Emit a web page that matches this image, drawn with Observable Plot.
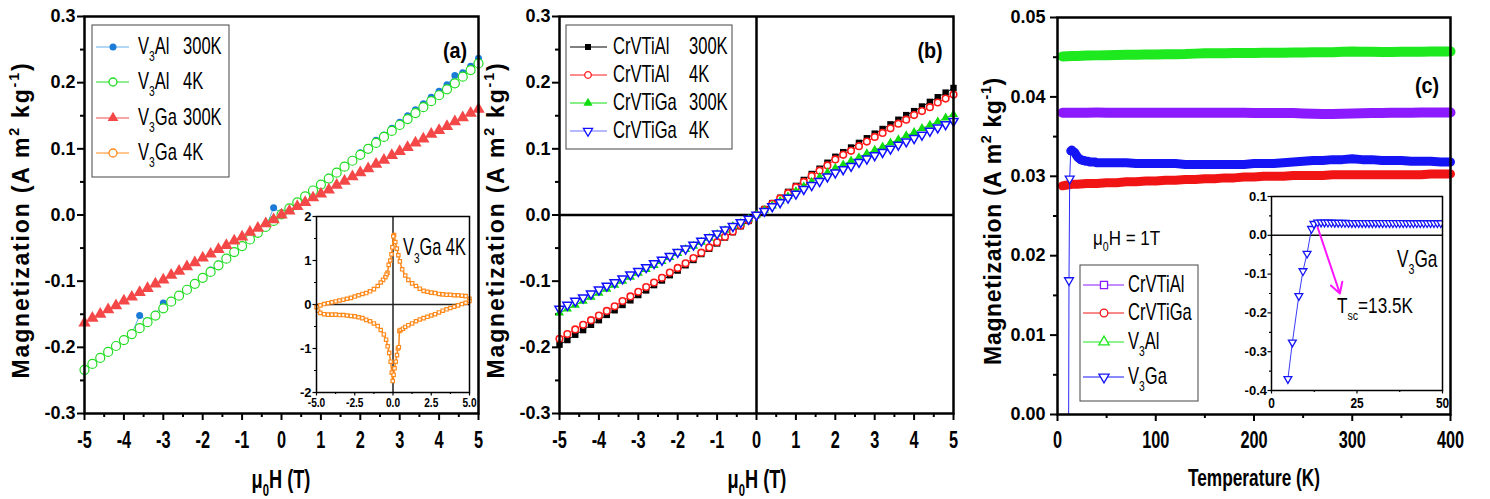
<!DOCTYPE html>
<html>
<head>
<meta charset="utf-8">
<script src="https://cdn.jsdelivr.net/npm/d3@7"></script>
<script src="https://cdn.jsdelivr.net/npm/@observablehq/plot@0.6"></script>
<style>
  body { margin: 0; background: #fff; }
  #fig { position: relative; width: 1490px; height: 499px; overflow: hidden; background: #fff;
         font-family: 'Liberation Sans', Arial, Helvetica, sans-serif; }
  #fig > svg { position: absolute; }
  .pm g[aria-label="x-axis tick label"] text { font: bold 24px 'Liberation Sans', Arial, sans-serif; }
  .pm g[aria-label="y-axis tick label"] text { font: bold 18px 'Liberation Sans', Arial, sans-serif; }
  .pa g[aria-label="x-axis tick label"] text { font: bold 13px 'Liberation Sans', Arial, sans-serif; }
  .pa g[aria-label="y-axis tick label"] text { font: bold 13px 'Liberation Sans', Arial, sans-serif; }
  .pc g[aria-label="x-axis tick label"] text { font: bold 14px 'Liberation Sans', Arial, sans-serif; }
  .pc g[aria-label="y-axis tick label"] text { font: bold 13px 'Liberation Sans', Arial, sans-serif; }
</style>
</head>
<body>
<div id="fig"></div>
<script>
// ---------------- field sweeps for panels (a) and (b), tesla ----------------
const fieldAB = [-5.0,-4.8,-4.6,-4.4,-4.2,-4.0,-3.8,-3.6,-3.4,-3.2,-3.0,-2.8,-2.6,-2.4,-2.2,-2.0,-1.8,-1.6,-1.4,-1.2,
  -1.0,-0.8,-0.6,-0.4,-0.2,0.0,0.2,0.4,0.6,0.8,1.0,1.2,1.4,1.6,1.8,2.0,2.2,2.4,2.6,2.8,
  3.0,3.2,3.4,3.6,3.8,4.0,4.2,4.4,4.6,4.8,5.0];

// (a) V3Al / V3Ga magnetization, A m^2 kg^-1
const v3al300K = [-0.236,-0.226,-0.217,-0.207,-0.197,-0.190,-0.179,-0.152,-0.160,-0.150,
  -0.133,-0.131,-0.121,-0.112,-0.103,-0.094,-0.083,-0.074,-0.066,-0.057,
  -0.048,-0.037,-0.028,-0.019,0.011,0.003,0.010,0.019,0.028,0.038,
  0.047,0.057,0.065,0.074,0.083,0.094,0.102,0.113,0.121,0.131,
  0.140,0.150,0.159,0.168,0.178,0.187,0.197,0.211,0.215,0.225,0.237];
const v3al4K = [-0.234,-0.225,-0.216,-0.207,-0.198,-0.189,-0.180,-0.171,-0.162,-0.152,
  -0.141,-0.131,-0.122,-0.113,-0.104,-0.095,-0.086,-0.076,-0.066,-0.056,
  -0.047,-0.037,-0.027,-0.018,-0.009,0.001,0.010,0.019,0.028,0.037,
  0.046,0.055,0.064,0.073,0.082,0.091,0.100,0.109,0.118,0.127,
  0.136,0.145,0.154,0.163,0.172,0.181,0.190,0.199,0.209,0.219,0.229];
const v3ga300K = [-0.163,-0.156,-0.150,-0.143,-0.137,-0.130,-0.124,-0.117,-0.111,-0.104,
  -0.098,-0.091,-0.085,-0.078,-0.072,-0.065,-0.059,-0.052,-0.046,-0.039,
  -0.033,-0.026,-0.020,-0.013,-0.007,0.000,0.006,0.013,0.019,0.026,
  0.032,0.038,0.045,0.051,0.058,0.064,0.070,0.077,0.083,0.090,
  0.096,0.102,0.109,0.115,0.122,0.128,0.134,0.141,0.147,0.154,0.160];

// (b) CrVTiAl / CrVTiGa
const crvtial300K = [-0.196,-0.189,-0.181,-0.174,-0.166,-0.159,-0.151,-0.144,-0.136,-0.129,
  -0.121,-0.114,-0.106,-0.099,-0.091,-0.084,-0.076,-0.068,-0.059,-0.051,
  -0.043,-0.034,-0.026,-0.017,-0.009,0.000,
  0.009,0.018,0.026,0.035,0.044,0.053,0.062,0.070,0.079,0.088,
  0.095,0.102,0.109,0.116,0.123,0.130,0.137,0.144,0.151,0.157,0.164,0.171,0.178,0.185,0.192];
const crvtial4K = [-0.187,-0.180,-0.173,-0.166,-0.159,-0.152,-0.145,-0.138,-0.130,-0.123,
  -0.116,-0.109,-0.102,-0.095,-0.087,-0.080,-0.073,-0.065,-0.057,-0.049,
  -0.041,-0.033,-0.025,-0.016,-0.008,0.000,
  0.008,0.017,0.025,0.033,0.042,0.050,0.059,0.067,0.075,0.084,
  0.091,0.097,0.104,0.111,0.118,0.124,0.131,0.138,0.144,0.151,0.157,0.163,0.170,0.176,0.182];
const crvtiga300K = [-0.148,-0.142,-0.136,-0.130,-0.124,-0.118,-0.112,-0.106,-0.100,-0.094,
  -0.088,-0.082,-0.076,-0.070,-0.064,-0.058,-0.052,-0.047,-0.041,-0.035,
  -0.029,-0.023,-0.017,-0.012,-0.006,0.000,
  0.007,0.014,0.021,0.028,0.036,0.043,0.050,0.057,0.064,0.071,
  0.076,0.082,0.087,0.093,0.098,0.103,0.109,0.114,0.120,0.125,0.131,0.136,0.141,0.147,0.152];
const crvtiga4K = [-0.142,-0.136,-0.130,-0.125,-0.119,-0.113,-0.107,-0.102,-0.096,-0.090,
  -0.085,-0.079,-0.073,-0.068,-0.062,-0.056,-0.051,-0.045,-0.039,-0.034,
  -0.028,-0.022,-0.017,-0.011,-0.006,0.000,
  0.006,0.013,0.019,0.026,0.032,0.039,0.045,0.051,0.058,0.064,
  0.069,0.074,0.080,0.085,0.090,0.095,0.100,0.106,0.111,0.116,0.121,0.127,0.132,0.137,0.142];

// inset of (a): V3Ga hysteresis loop at 4 K (descending then ascending branch)
const loopDownH = [5.0,4.75,4.5,4.25,4.0,3.75,3.5,3.25,3.0,2.75,2.5,2.25,2.0,1.75,1.5,1.25,1.0,0.8,0.6,0.45,
  0.35,0.25,0.15,0.07,0.02,-0.04,-0.1,-0.18,-0.28,-0.36,-0.42,-0.5,-0.65,-0.8,-1.0,-1.25,-1.5,-1.75,-2.0,-2.25,
  -2.5,-2.75,-3.0,-3.25,-3.5,-3.75,-4.0,-4.25,-4.5,-4.75,-5.0];
const loopDownM = [0.13,0.19,0.20,0.21,0.21,0.22,0.22,0.23,0.24,0.26,0.27,0.29,0.31,0.36,0.42,0.48,0.56,0.66,0.80,0.98,
  1.12,1.27,1.42,1.58,1.55,1.30,1.14,1.00,0.90,0.72,0.68,0.62,0.56,0.50,0.42,0.35,0.30,0.26,0.24,0.21,
  0.18,0.15,0.13,0.11,0.09,0.07,0.05,0.03,0.01,-0.02,-0.06];
const loopUpH = [-4.9,-4.75,-4.5,-4.25,-4.0,-3.75,-3.5,-3.25,-3.0,-2.75,-2.5,-2.25,-2.0,-1.75,-1.5,-1.25,-1.0,-0.8,-0.6,-0.45,
  -0.35,-0.25,-0.15,-0.08,-0.02,0.04,0.1,0.18,0.26,0.32,0.38,0.42,0.5,0.65,0.8,1.0,1.25,1.5,1.75,2.0,
  2.25,2.5,2.75,3.0,3.25,3.5,3.75,4.0,4.25,4.5,4.75,5.0];
const loopUpM = [-0.14,-0.19,-0.22,-0.23,-0.23,-0.23,-0.24,-0.24,-0.25,-0.26,-0.27,-0.29,-0.31,-0.35,-0.38,-0.43,-0.49,-0.58,-0.68,-0.80,
  -0.95,-1.10,-1.30,-1.55,-1.74,-1.60,-1.45,-1.30,-1.15,-1.00,-0.97,-0.60,-0.58,-0.55,-0.51,-0.47,-0.43,-0.38,-0.34,-0.31,
  -0.28,-0.25,-0.22,-0.18,-0.14,-0.11,-0.08,-0.05,-0.02,0.01,0.04,0.08];

// ---------------- (c) M(T) at 1 T, kelvin ----------------
const tempC = [5,10,15,20,30,40,50,60,70,80,90,100,110,120,130,140,150,160,170,180,190,200,210,220,230,240,
  250,260,270,280,290,300,310,320,330,340,350,360,370,380,390,400];
const mCrVTiAl = [0.03800,0.03801,0.03800,0.03800,0.03801,0.03802,0.03801,0.03800,0.03800,0.03801,0.03800,0.03799,0.03800,
  0.03800,0.03801,0.03800,0.03799,0.03800,0.03800,0.03799,0.03799,0.03798,0.03798,0.03798,0.03797,0.03796,
  0.03792,0.03788,0.03786,0.03786,0.03788,0.03790,0.03793,0.03796,
  0.03798,0.03800,0.03801,0.03801,0.03802,0.03802,0.03802,0.03803];
const mCrVTiGa = [0.0288,0.0289,0.0290,0.0290,0.0291,0.0291,0.0292,0.0292,0.0293,0.0293,0.0294,0.0294,0.0295,
  0.0295,0.0296,0.0296,0.0297,0.0297,0.0298,0.0298,0.0299,0.0299,0.0300,0.0300,0.0300,0.0301,
  0.0301,0.0301,0.0301,0.0302,0.0302,0.0302,0.0302,0.0302,
  0.0302,0.0302,0.0302,0.0302,0.0302,0.0303,0.0303,0.0303];
const mV3Al = [0.04510,0.04512,0.04514,0.04516,0.04520,0.04523,0.04526,0.04528,0.04530,0.04532,0.04534,0.04535,0.04537,
  0.04538,0.04540,0.04545,0.04549,0.04550,0.04551,0.04552,0.04553,0.04554,0.04555,0.04556,0.04557,0.04558,
  0.04560,0.04561,0.04562,0.04563,0.04570,0.04572,0.04570,0.04568,
  0.04567,0.04567,0.04568,0.04569,0.04570,0.04571,0.04572,0.04573];
const tempV3Ga = [4.8,6.1,8.0,9.2,10.4,11.7,12.4,
  13.5,14.5,15.5,16.5,17.5,18.5,19.5,20.5,21.5,22.5,23.5,24.5,25.5,26.5,27.5,28.5,29.5,30.5,31.5,32.5,
  33.5,34.5,35.5,36.5,37.5,38.5,39.5,40.5,41.5,42.5,43.5,44.5,45.5,46.5,47.5,48.5,49.5,
  60,70,80,90,100,110,120,130,140,150,160,170,180,190,200,210,220,230,240,250,
  260,270,280,290,300,310,320,330,340,350,360,370,380,390,400];
const mV3Ga = [-0.370,-0.276,-0.156,-0.092,-0.047,0.0169,0.0297,
  0.0332,0.0333,0.0332,0.0331,0.0330,0.0328,0.0326,0.0324,0.0323,0.0322,
  0.0321,0.0321,0.0320,0.0320,0.0320,0.0319,0.0319,0.0319,0.0319,0.0318,
  0.0318,0.0318,0.0318,0.0318,0.0318,0.0318,0.0317,0.0317,0.0317,0.0317,
  0.0317,0.0317,0.0317,0.0317,0.0317,0.0317,0.0317,
  0.0317,0.0317,0.0316,0.0316,0.0316,0.0316,0.0316,0.0315,0.0315,0.0315,
  0.0315,0.0315,0.0315,0.0315,0.0316,0.0316,0.0316,0.0317,0.0318,0.0319,
  0.0320,0.0320,0.0321,0.0321,0.0322,0.0321,0.0321,0.0320,0.0320,0.0320,
  0.0319,0.0319,0.0319,0.0318,0.0318];
const tSC = 13.5;                 // superconducting transition of V3Ga, K
const tscArrowEnd = [20, -0.15];  // where the Tsc pointer ends (inset coordinates)

// ---------------- ticks ----------------
const ticksH = [-5,-4,-3,-2,-1,0,1,2,3,4,5];
const minorH = [-4.5,-3.5,-2.5,-1.5,-0.5,0.5,1.5,2.5,3.5,4.5];
const ticksM = [-0.3,-0.2,-0.1,0,0.1,0.2,0.3];
const minorM = [-0.25,-0.15,-0.05,0.05,0.15,0.25];
const ticksT = [0,100,200,300,400];
const minorT = [50,150,250,350];
const ticksMT = [0,0.01,0.02,0.03,0.04,0.05];
const minorMT = [0.005,0.015,0.025,0.035,0.045];
const ticksLoopH = [-5,-2.5,0,2.5,5];
const minorLoopH = [-3.75,-1.25,1.25,3.75];
const ticksLoopM = [-2,-1,0,1,2];
const minorLoopM = [-1.5,-0.5,0.5,1.5];
const ticksTi = [0,25,50];
const minorTi = [12.5,37.5];
const ticksMi = [-0.4,-0.3,-0.2,-0.1,0,0.1];
const minorMi = [-0.35,-0.25,-0.15,-0.05,0.05];

// ---------------- helpers ----------------
const NS = "http://www.w3.org/2000/svg";
const FONT = "'Liberation Sans', Arial, Helvetica, sans-serif";
const fig = document.getElementById("fig");
const rows = (xs, ys) => xs.map((x, i) => ({x, y: ys[i]}));

// downward-pointing triangle, same area convention as d3.symbolTriangle
const triangleDown = {
  draw(context, size) {
    const y = -Math.sqrt(size / (Math.sqrt(3) * 3));
    context.moveTo(0, -y * 2);
    context.lineTo(-Math.sqrt(3) * y, y);
    context.lineTo(Math.sqrt(3) * y, y);
    context.closePath();
  }
};

function axes({xMajor, xMinor, yMajor, yMinor, xFmt, yFmt, major = 7, minor = 4, sw = 2, xPad = 10, yPad = 2}) {
  return [
    Plot.axisX({ticks: xMajor, tickSize: major, tickPadding: xPad, tickFormat: xFmt, strokeWidth: sw, label: null}),
    Plot.axisX({ticks: xMinor, tickSize: minor, tickFormat: () => "", strokeWidth: sw, label: null}),
    Plot.axisY({ticks: yMajor, tickSize: major, tickPadding: yPad, tickFormat: yFmt, strokeWidth: sw, label: null}),
    Plot.axisY({ticks: yMinor, tickSize: minor, tickFormat: () => "", strokeWidth: sw, label: null})
  ];
}

// narrow the glyphs of a group of texts horizontally around their anchor x
function condense(svg, selector, k) {
  svg.querySelectorAll(selector).forEach((t) => {
    let x = parseFloat(t.getAttribute("x"));
    if (!isFinite(x)) x = 0;
    const tr = t.getAttribute("transform") || "";
    t.setAttribute("transform", `${tr} translate(${x},0) scale(${k},1) translate(${-x},0)`.trim());
  });
}

function place(svg, left, top, cls) {
  svg.style.position = "absolute";
  svg.style.left = left + "px";
  svg.style.top = top + "px";
  svg.classList.add(cls);
  fig.appendChild(svg);
  return svg;
}

const baseStyle = {background: "transparent", overflow: "visible", fontFamily: FONT};

// ---------------- panel (a) ----------------
const panelA = Plot.plot({
  width: 490, height: 499, marginLeft: 84, marginRight: 12, marginTop: 16, marginBottom: 86,
  x: {domain: [-5, 5]}, y: {domain: [-0.3, 0.3]},
  style: baseStyle,
  marks: [
    ...axes({xMajor: ticksH, xMinor: minorH, yMajor: ticksM, yMinor: minorM,
             xFmt: (d) => String(d), yFmt: (d) => d.toFixed(1)}),
    Plot.line(rows(fieldAB, v3al300K), {x: "x", y: "y", stroke: "#62b0ee", strokeWidth: 1}),
    Plot.dot(rows(fieldAB, v3al300K), {x: "x", y: "y", r: 3.5, fill: "#1b7bd6"}),
    Plot.line(rows(fieldAB, v3al4K), {x: "x", y: "y", stroke: "#22dd22", strokeWidth: 1}),
    Plot.dot(rows(fieldAB, v3al4K), {x: "x", y: "y", r: 4.5, fill: "white", stroke: "#22dd22", strokeWidth: 1.2}),
    Plot.line(rows(fieldAB, v3ga300K), {x: "x", y: "y", stroke: "#f44848", strokeWidth: 1}),
    Plot.dot(rows(fieldAB, v3ga300K), {x: "x", y: "y", symbol: "triangle", r: 4.6, fill: "#f44848"}),
    Plot.frame({stroke: "black", strokeWidth: 2.5})
  ]
});
condense(panelA, 'g[aria-label="x-axis tick label"] text', 0.68);
place(panelA, 0, 0, "pm");

// ---------------- panel (b) ----------------
const panelB = Plot.plot({
  width: 490, height: 499, marginLeft: 69, marginRight: 27, marginTop: 16, marginBottom: 86,
  x: {domain: [-5, 5]}, y: {domain: [-0.3, 0.3]},
  style: baseStyle,
  marks: [
    ...axes({xMajor: ticksH, xMinor: minorH, yMajor: ticksM, yMinor: minorM,
             xFmt: (d) => String(d), yFmt: (d) => d.toFixed(1)}),
    Plot.ruleX([0], {stroke: "black", strokeWidth: 2.5}),
    Plot.ruleY([0], {stroke: "black", strokeWidth: 2.5}),
    Plot.line(rows(fieldAB, crvtial300K), {x: "x", y: "y", stroke: "black", strokeWidth: 1}),
    Plot.dot(rows(fieldAB, crvtial300K), {x: "x", y: "y", symbol: "square", r: 3.6, fill: "black"}),
    Plot.line(rows(fieldAB, crvtial4K), {x: "x", y: "y", stroke: "#ff1a1a", strokeWidth: 1}),
    Plot.dot(rows(fieldAB, crvtial4K), {x: "x", y: "y", r: 3.3, fill: "white", stroke: "#ff1a1a", strokeWidth: 1.6}),
    Plot.line(rows(fieldAB, crvtiga300K), {x: "x", y: "y", stroke: "#10dd10", strokeWidth: 1}),
    Plot.dot(rows(fieldAB, crvtiga300K), {x: "x", y: "y", symbol: "triangle", r: 3.4, fill: "#10dd10"}),
    Plot.line(rows(fieldAB, crvtiga4K), {x: "x", y: "y", stroke: "#3030ff", strokeWidth: 1}),
    Plot.dot(rows(fieldAB, crvtiga4K), {x: "x", y: "y", symbol: triangleDown, r: 3.4, fill: "white", stroke: "#1010ff", strokeWidth: 1.5}),
    Plot.frame({stroke: "black", strokeWidth: 2.5})
  ]
});
condense(panelB, 'g[aria-label="x-axis tick label"] text', 0.68);
place(panelB, 490, 0, "pm");

// ---------------- panel (c) ----------------
const panelC = Plot.plot({
  width: 510, height: 499, marginLeft: 77, marginRight: 40, marginTop: 17, marginBottom: 85,
  x: {domain: [0, 400]}, y: {domain: [0, 0.05]},
  style: baseStyle,
  marks: [
    ...axes({xMajor: ticksT, xMinor: minorT, yMajor: ticksMT, yMinor: minorMT,
             xFmt: (d) => String(d), yFmt: (d) => d.toFixed(2), xPad: 9, yPad: 5}),
    Plot.line(rows(tempC, mV3Al), {x: "x", y: "y", stroke: "#1ee81e", strokeWidth: 10}),
    Plot.line(rows(tempC, mCrVTiAl), {x: "x", y: "y", stroke: "#8c1aff", strokeWidth: 10}),
    Plot.line(rows(tempC, mCrVTiGa), {x: "x", y: "y", stroke: "#f01414", strokeWidth: 9}),
    Plot.line(rows(tempV3Ga, mV3Ga), {x: "x", y: "y", stroke: "#2a2af5", strokeWidth: 1, clip: true}),
    Plot.line(rows(tempV3Ga, mV3Ga), {x: "x", y: "y", filter: (d) => d.x >= tSC, stroke: "#1414f5", strokeWidth: 9}),
    Plot.dot(rows(tempV3Ga, mV3Ga), {x: "x", y: "y", filter: (d) => d.x < tSC, symbol: triangleDown, r: 3.3,
      fill: "white", stroke: "#1414f5", strokeWidth: 1.3, clip: true}),
    Plot.frame({stroke: "black", strokeWidth: 2.5})
  ]
});
condense(panelC, 'g[aria-label="x-axis tick label"] text', 0.68);
place(panelC, 980, 0, "pm");

// ---------------- inset of (a): V3Ga 4K loop ----------------
const loop = rows(loopDownH.concat(loopUpH), loopDownM.concat(loopUpM));
const insetA = Plot.plot({
  width: 200, height: 215, marginLeft: 36, marginRight: 11, marginTop: 16, marginBottom: 23,
  x: {domain: [-5, 5]}, y: {domain: [-2, 2]},
  style: baseStyle,
  marks: [
    ...axes({xMajor: ticksLoopH, xMinor: minorLoopH, yMajor: ticksLoopM, yMinor: minorLoopM,
             xFmt: (d) => d.toFixed(1), yFmt: (d) => String(d), major: 3.5, minor: 2, sw: 1.2, xPad: 2, yPad: 1.5}),
    Plot.ruleX([0], {stroke: "#222", strokeWidth: 1.5}),
    Plot.ruleY([0], {stroke: "#222", strokeWidth: 1.5}),
    Plot.line(loop, {x: "x", y: "y", stroke: "#ff8a1c", strokeWidth: 1.5}),
    Plot.dot(loop, {x: "x", y: "y", symbol: "square", r: 1.9, fill: "white", stroke: "#ff8a1c", strokeWidth: 1.2}),
    Plot.frame({stroke: "black", strokeWidth: 1.5})
  ]
});
condense(insetA, 'g[aria-label="x-axis tick label"] text', 0.78);
place(insetA, 280, 200, "pa");

// ---------------- inset of (c): V3Ga low-temperature detail ----------------
const v3gaRows = rows(tempV3Ga, mV3Ga);
const insetC = Plot.plot({
  width: 240, height: 230, marginLeft: 51, marginRight: 18, marginTop: 16, marginBottom: 20,
  x: {domain: [0, 50]}, y: {domain: [-0.4, 0.1]},
  style: baseStyle,
  marks: [
    ...axes({xMajor: ticksTi, xMinor: minorTi, yMajor: ticksMi, yMinor: minorMi,
             xFmt: (d) => String(d), yFmt: (d) => d.toFixed(1), major: 3.5, minor: 2, sw: 1.2, xPad: 4, yPad: 1}),
    Plot.ruleY([0], {stroke: "#111", strokeWidth: 1.5}),
    Plot.line(v3gaRows, {x: "x", y: "y", stroke: "#3a3af5", strokeWidth: 1, clip: true}),
    Plot.dot(v3gaRows, {x: "x", y: "y", symbol: triangleDown, r: 2.9, fill: "white", stroke: "#1414f5", strokeWidth: 1.3, clip: true}),
    Plot.arrow([tSC], {x1: (d) => d, y1: 0.02, x2: tscArrowEnd[0], y2: tscArrowEnd[1],
      stroke: "#ff14ff", strokeWidth: 2, headLength: 9}),
    Plot.frame({stroke: "black", strokeWidth: 1.5})
  ]
});
condense(insetC, 'g[aria-label="x-axis tick label"] text', 0.85);
place(insetC, 1220, 180, "pc");

// ---------------- titles, legends and annotations ----------------
const ov = document.createElementNS(NS, "svg");
ov.setAttribute("width", 1490);
ov.setAttribute("height", 499);
ov.setAttribute("font-family", FONT);
ov.style.left = "0px"; ov.style.top = "0px"; ov.style.pointerEvents = "none";
fig.appendChild(ov);

function el(name, attrs, parent = ov) {
  const e = document.createElementNS(NS, name);
  for (const k in attrs) e.setAttribute(k, attrs[k]);
  parent.appendChild(e);
  return e;
}

// parts: strings, or [string, "sub" | "sup"]
function label(x, y, parts, o = {}) {
  const size = o.size || 20;
  const t = el("text", {
    "font-size": size, "font-weight": o.weight || "normal", "text-anchor": o.anchor || "start", fill: "black",
    transform: `translate(${x},${y}) rotate(${o.rotate || 0}) scale(${o.k || 1},1)`
  });
  let shift = 0;
  for (const p of parts) {
    const [s, kind] = typeof p === "string" ? [p, null] : p;
    const target = kind === "sub" ? 0.32 * size : kind === "sup" ? -0.42 * size : 0;
    const ts = el("tspan", {dy: target - shift}, t);
    if (kind) ts.setAttribute("font-size", 0.62 * size);
    ts.textContent = s;
    shift = target;
  }
  if (o.length) {
    const n = t.textContent.length;
    const L = t.getComputedTextLength();
    t.setAttribute("letter-spacing", ((o.length - L) / (n - 1)).toFixed(2));
  }
  return t;
}

const symbolTypes = {circle: d3.symbolCircle, square: d3.symbolSquare, triangle: d3.symbolTriangle, down: triangleDown};
function legend({x, y, w, h, lineX, markX, textX, tempX, entries}) {
  el("rect", {x, y, width: w, height: h, fill: "white", stroke: "#444", "stroke-width": 1});
  for (const e of entries) {
    el("line", {x1: lineX[0], x2: lineX[1], y1: e.y, y2: e.y, stroke: e.line || e.color, "stroke-width": 1});
    el("path", {d: d3.symbol(symbolTypes[e.shape], Math.PI * e.r * e.r)(),
      transform: `translate(${markX},${e.y})`, fill: e.open ? "white" : e.color, stroke: e.color,
      "stroke-width": e.open ? 1.3 : 0});
    label(textX, e.y + 7, e.name, {size: 23, k: 0.72});
    if (e.temp) label(tempX, e.y + 7, [e.temp], {size: 23, k: 0.72});
  }
}

legend({x: 92, y: 25, w: 137, h: 152, lineX: [96, 129], markX: 113, textX: 138, tempX: 183, entries: [
  {y: 47, name: ["V", ["3", "sub"], "Al"], temp: "300K", color: "#1b7bd6", line: "#62b0ee", shape: "circle", r: 3.5},
  {y: 82, name: ["V", ["3", "sub"], "Al"], temp: "4K", color: "#22dd22", shape: "circle", r: 4, open: true},
  {y: 118, name: ["V", ["3", "sub"], "Ga"], temp: "300K", color: "#f44848", shape: "triangle", r: 4},
  {y: 153, name: ["V", ["3", "sub"], "Ga"], temp: "4K", color: "#ff8a1c", shape: "circle", r: 4, open: true}
]});
legend({x: 566, y: 25, w: 166, h: 124, lineX: [570, 607], markX: 588, textX: 613, tempX: 689, entries: [
  {y: 47, name: ["CrVTiAl"], temp: "300K", color: "black", shape: "square", r: 3.4},
  {y: 75, name: ["CrVTiAl"], temp: "4K", color: "#ff1a1a", shape: "circle", r: 3.3, open: true},
  {y: 103, name: ["CrVTiGa"], temp: "300K", color: "#10dd10", shape: "triangle", r: 3.4},
  {y: 131, name: ["CrVTiGa"], temp: "4K", color: "#1010ff", line: "#7070ff", shape: "down", r: 3.4, open: true}
]});
legend({x: 1080, y: 265, w: 118, h: 136, lineX: [1083, 1124], markX: 1104, textX: 1128, entries: [
  {y: 285, name: ["CrVTiAl"], color: "#8c1aff", shape: "square", r: 4, open: true},
  {y: 313, name: ["CrVTiGa"], color: "#f01414", shape: "circle", r: 3.8, open: true},
  {y: 342, name: ["V", ["3", "sub"], "Al"], color: "#1ee81e", shape: "triangle", r: 3.8, open: true},
  {y: 377, name: ["V", ["3", "sub"], "Ga"], color: "#1414f5", shape: "down", r: 3.8, open: true}
]});

// panel tags
label(455, 58, ["(a)"], {size: 22, weight: "bold", anchor: "middle", k: 0.9});
label(930, 58, ["(b)"], {size: 22, weight: "bold", anchor: "middle", k: 0.9});
label(1427, 93, ["(c)"], {size: 22, weight: "bold", anchor: "middle", k: 0.9});

// annotations
label(403, 255, ["V", ["3", "sub"], "Ga 4K"], {size: 24, k: 0.68});
label(1093, 245, ["\u03bc", ["0", "sub"], "H = 1T"], {size: 20, k: 0.85});
label(1397, 267, ["V", ["3", "sub"], "Ga"], {size: 23, k: 0.75});
label(1337, 313, ["T", ["sc", "sub"], `=${tSC}K`], {size: 22, k: 0.78});

// axis titles
const magTitle = ["Magnetization (A m", ["2", "sup"], " kg", ["-1", "sup"], ")"];
label(29, 220, magTitle, {size: 23, weight: "bold", anchor: "middle", rotate: -90, length: 315});
label(504, 220, magTitle, {size: 23, weight: "bold", anchor: "middle", rotate: -90, length: 315});
label(1001, 221, magTitle, {size: 23, weight: "bold", anchor: "middle", rotate: -90, length: 287});
label(281, 488, ["\u03bc", ["0", "sub"], "H (T)"], {size: 26, weight: "bold", anchor: "middle", k: 0.7});
label(757, 488, ["\u03bc", ["0", "sub"], "H (T)"], {size: 26, weight: "bold", anchor: "middle", k: 0.7});
label(1254, 486, ["Temperature (K)"], {size: 24, weight: "bold", anchor: "middle", k: 0.72});
</script>
</body>
</html>
